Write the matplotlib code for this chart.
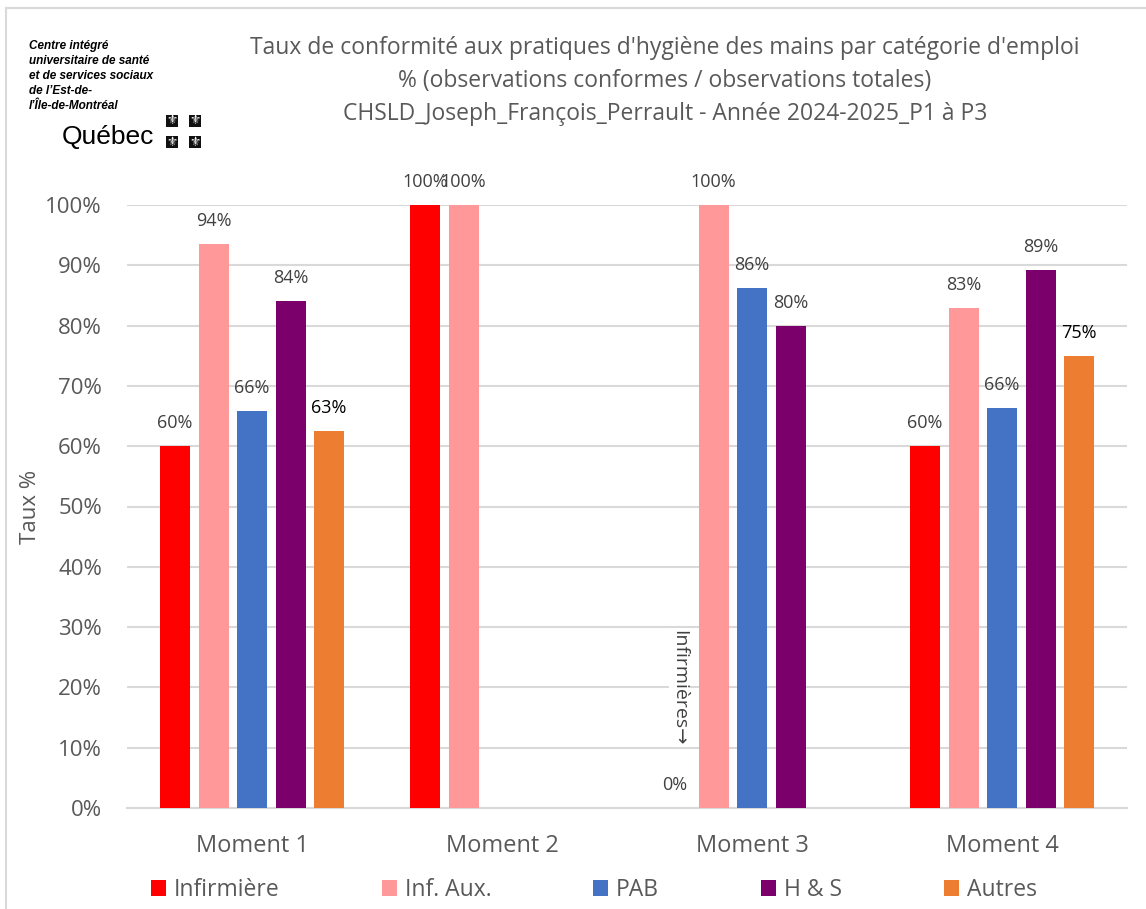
import numpy as np
import matplotlib.pyplot as plt
from matplotlib.patches import Patch, Rectangle
from matplotlib.lines import Line2D

plt.rcParams['font.family'] = ['Open Sans', 'DejaVu Sans']

# ---- data -------------------------------------------------------------
moments = ['Moment 1', 'Moment 2', 'Moment 3', 'Moment 4']
series_names = ['Infirmière', 'Inf. Aux.', 'PAB', 'H & S', 'Autres']
infirmiere = [0.60, 1.00, 0.00, 0.60]
inf_aux = [0.936, 1.00, 1.00, 0.829]
pab = [0.659, np.nan, 0.862, 0.664]
h_s = [0.841, np.nan, 0.80, 0.892]
autres = [0.626, np.nan, np.nan, 0.75]
colors = ['#FF0000', '#FF9999', '#4472C4', '#7B006B', '#ED7D31']
label_colors = ['#404040', '#404040', '#404040', '#404040', '#000000']
y_ticks = np.arange(0, 1.01, 0.1)

title_lines = ["Taux de conformité aux pratiques d'hygiène des mains par catégorie d'emploi",
               "% (observations conformes / observations totales)",
               "CHSLD_Joseph_François_Perrault - Année 2024-2025_P1 à P3"]
logo_lines = ['Centre intégré', 'universitaire de santé', 'et de services sociaux',
              'de l’Est-de-', 'l’Île-de-Montréal']

all_series = [infirmiere, inf_aux, pab, h_s, autres]

fig = plt.figure(figsize=(11.46, 9.09), dpi=100)
ax = fig.add_axes([127 / 1146, 101 / 909, 1000 / 1146, 603 / 909])

x = np.arange(len(moments))
step = 0.154
width = 0.12
for k, (vals, col, lc) in enumerate(zip(all_series, colors, label_colors)):
    offs = (k - 2) * step
    vals = np.array(vals, dtype=float)
    ok = ~np.isnan(vals)
    ax.bar(x[ok] + offs, vals[ok], width, color=col, zorder=3)
    for xi, v in zip(x[ok] + offs, vals[ok]):
        ax.annotate(f'{v:.0%}', (xi, v), xytext=(0, 10), textcoords='offset points',
                    ha='center', va='bottom', fontsize=13, color=lc, annotation_clip=False)

# note on the empty Infirmière bar of Moment 3
ax.text(2 - 0.29, 0.20, 'Infirmières→', rotation=-90, ha='center', va='center',
        fontsize=14, color='#404040', zorder=4,
        bbox=dict(facecolor='white', edgecolor='none', pad=1))

ax.set_xlim(-0.5, 3.5)
ax.set_ylim(0, 1)
ax.set_yticks(y_ticks)
ax.set_yticklabels([f'{t:.0%}' for t in y_ticks])
ax.set_xticks(x)
ax.set_xticklabels(moments)
ax.tick_params(axis='y', length=0, pad=18, labelsize=16, labelcolor='#595959')
ax.tick_params(axis='x', length=0, pad=19, labelsize=17, labelcolor='#595959')
ax.yaxis.grid(True, color='#D9D9D9', linewidth=1.5, zorder=0)
ax.set_axisbelow(True)
for s in ['top', 'right', 'left']:
    ax.spines[s].set_visible(False)
ax.spines['bottom'].set_color('#D9D9D9')
ax.spines['bottom'].set_linewidth(1.5)
ax.set_ylabel('Taux %', fontsize=16, color='#595959', va='center')
ax.yaxis.set_label_coords(-0.097, 0.5)

# title
for i, line in enumerate(title_lines):
    fig.text(665 / 1146, 1 - (48 + 33 * i) / 909, line, ha='center', va='center',
             fontsize=16.5, color='#595959')

# legend
handles = [Patch(facecolor=c, edgecolor='none') for c in colors]
fig.legend(handles, series_names, loc='center', bbox_to_anchor=(594 / 1146, 19 / 909),
           ncol=5, frameon=False, fontsize=16.5, handlelength=0.65, handleheight=0.65,
           handletextpad=0.35, columnspacing=4.45, labelcolor='#595959')

# logo
narrow = ['Liberation Sans Narrow', 'Liberation Sans', 'DejaVu Sans']
for i, line in enumerate(logo_lines):
    fig.text(29 / 1146, 1 - (46 + 15 * i) / 909, line, ha='left', va='center',
             fontsize=8.5, fontweight='bold', fontstyle='italic', family=narrow)
fig.text(62 / 1146, 1 - 137 / 909, 'Québec', ha='left', va='center',
         fontsize=19, family=narrow)
for cx in (166, 189):
    for cy in (115, 136):
        fig.patches.append(Rectangle((cx / 1146, 1 - (cy + 12) / 909), 12 / 1146, 12 / 909,
                                     transform=fig.transFigure, facecolor='#111111',
                                     edgecolor='none'))
        fig.text((cx + 6) / 1146, 1 - (cy + 6) / 909, '⚜', ha='center', va='center',
                 fontsize=9, color='white', family='DejaVu Sans')

# chart area border
fig.add_artist(Line2D([6 / 1146, 1], [1 - 8 / 909, 1 - 8 / 909], color='#D9D9D9', lw=1.5))
fig.add_artist(Line2D([6 / 1146, 6 / 1146], [0, 1 - 8 / 909], color='#D9D9D9', lw=1.5))

fig.savefig('out.png', dpi=100)
